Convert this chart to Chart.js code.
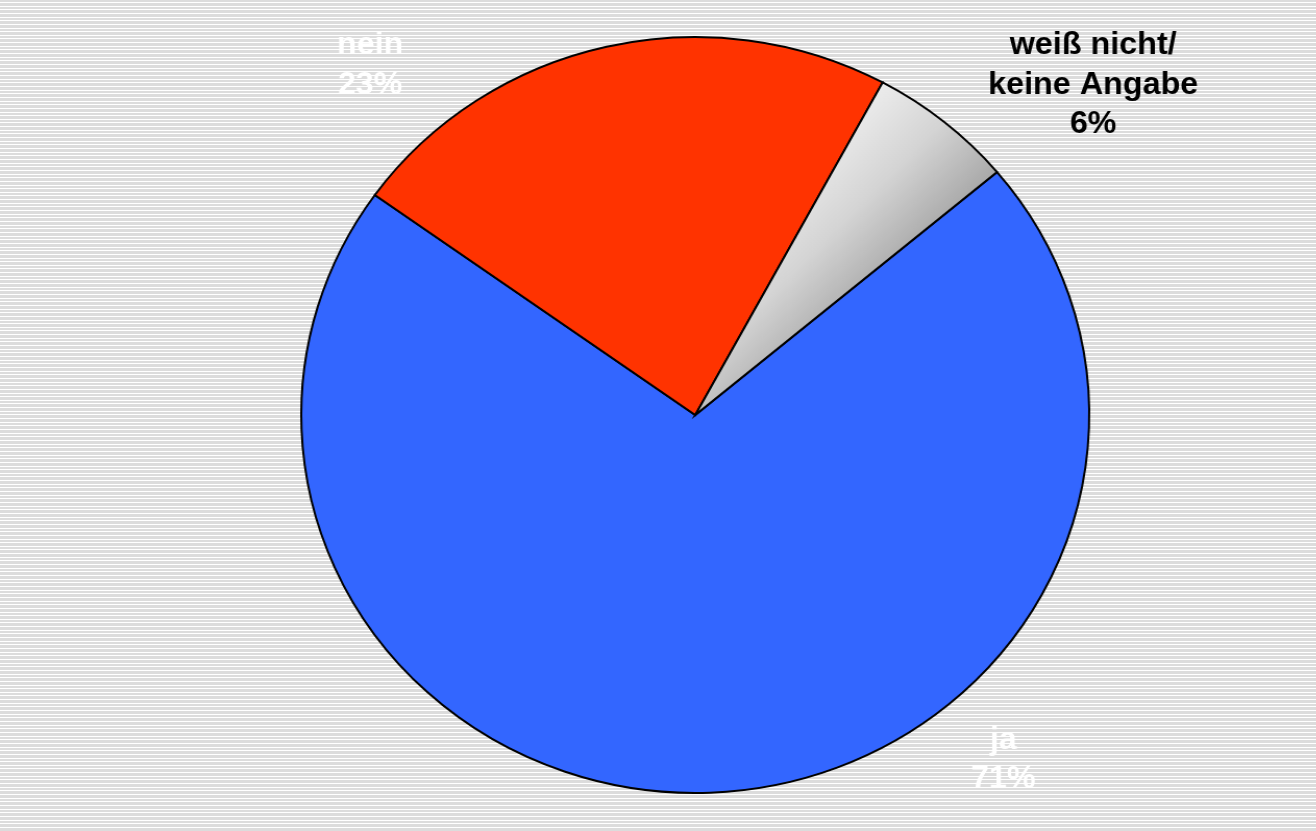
<!DOCTYPE html>
<html>
<head>
<meta charset="utf-8">
<script src="https://cdn.jsdelivr.net/npm/chart.js@4.4.1/dist/chart.umd.min.js"></script>
<style>
html,body{margin:0;padding:0;background:#dcdcdc;overflow:hidden;}
#wrap{width:1316px;height:831px;position:relative;overflow:hidden;}
#c{position:absolute;left:0;top:0;transform-origin:0 0;transform:scaleX(1.0423);}
</style>
</head>
<body>
<div id="wrap"><canvas id="c" width="1263" height="831"></canvas></div>
<script>
const categories = ['ja', 'nein', 'weiß nicht/\nkeine Angabe'];
const values = [71, 23, 6];
const valueLabels = ['71%', '23%', '6%'];
const sliceColors = ['#3366ff', '#ff3300', 'gradient'];
const labelColors = ['#ffffff', '#ffffff', '#000000'];

const bgPlugin = {
  id: 'stripes',
  beforeDraw(chart) {
    const ctx = chart.ctx;
    ctx.save();
    ctx.fillStyle = '#dcdcdc';
    ctx.fillRect(0, 0, chart.width, chart.height);
    ctx.fillStyle = '#ffffff';
    for (let y = 2; y < chart.height; y += 3.65) {
      ctx.fillRect(0, Math.round(y), chart.width, 1);
    }
    ctx.restore();
  }
};

// label offsets relative to pie centre, in units of radius
const labelOffsets = [[0.782, 0.912], [-0.825, -0.925], [1.010, -0.872]];

const labelPlugin = {
  id: 'outerLabels',
  afterDatasetsDraw(chart) {
    const ctx = chart.ctx;
    const meta = chart.getDatasetMeta(0);
    ctx.save();
    ctx.font = 'bold 31px "Liberation Sans", Arial, sans-serif';
    ctx.textAlign = 'center';
    ctx.textBaseline = 'middle';
    meta.data.forEach((arc, i) => {
      const r = arc.outerRadius;
      const cx = arc.x + labelOffsets[i][0] * r;
      const cy = arc.y + labelOffsets[i][1] * r;
      const lines = categories[i].split('\n').concat([valueLabels[i]]);
      const lh = 39.5;
      const top = cy - (lines.length - 1) * lh / 2;
      ctx.fillStyle = labelColors[i];
      lines.forEach((t, k) => ctx.fillText(t, cx, top + k * lh));
    });
    ctx.restore();
  }
};

new Chart(document.getElementById('c'), {
  type: 'pie',
  data: {
    labels: categories,
    datasets: [{
      data: values,
      backgroundColor: (c) => {
        const col = sliceColors[c.dataIndex];
        if (col !== 'gradient') return col;
        const chart = c.chart;
        const a = chart.chartArea;
        if (!a) return '#cccccc';
        const cx = (a.left + a.right) / 2, cy = (a.top + a.bottom) / 2;
        const r = Math.min(a.right - a.left, a.bottom - a.top) / 2;
        const g = chart.ctx.createLinearGradient(cx + 0.343 * r, cy - 0.806 * r, cx + 0.673 * r, cy - 0.491 * r);
        g.addColorStop(0, '#f2f2f2');
        g.addColorStop(0.5, '#d4d4d4');
        g.addColorStop(1, '#a0a0a0');
        return g;
      },
      borderColor: '#000000',
      borderWidth: 2,
      borderJoinStyle: 'miter',
      radius: 378
    }]
  },
  options: {
    responsive: false,
    animation: false,
    rotation: 50,
    layout: { padding: { left: 289, right: 218, top: 37, bottom: 38 } },
    plugins: { legend: { display: false }, tooltip: { enabled: false } }
  },
  plugins: [bgPlugin, labelPlugin]
});
</script>
</body>
</html>
